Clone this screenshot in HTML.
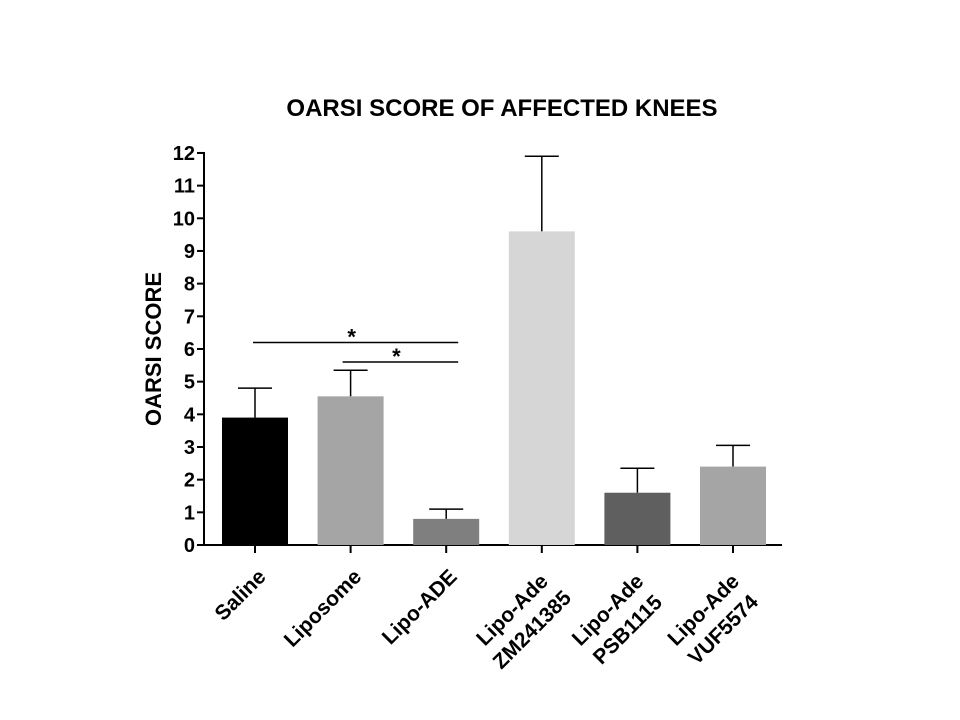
<!DOCTYPE html>
<html><head><meta charset="utf-8"><style>
body{margin:0;background:#fff;}
svg{display:block;font-family:"Liberation Sans",Arial,sans-serif;}
</style></head><body>
<svg id="chart" width="960" height="720">
<text x="502" y="116" text-anchor="middle" font-size="24" font-weight="bold">OARSI SCORE OF AFFECTED KNEES</text>
<text transform="translate(161,349) rotate(-90)" text-anchor="middle" font-size="22" font-weight="bold">OARSI SCORE</text>
<g id="marks"></g>
</svg>
<script>
const categories=[["Saline"],["Liposome"],["Lipo-ADE"],["Lipo-Ade","ZM241385"],["Lipo-Ade","PSB1115"],["Lipo-Ade","VUF5574"]];
const means=[3.9,4.55,0.8,9.6,1.6,2.4];
const errors=[0.9,0.8,0.3,2.3,0.75,0.65];
const colors=["#000000","#a5a5a5","#7f7f7f","#d6d6d6","#5f5f5f","#a5a5a5"];
const yTicks=[0,1,2,3,4,5,6,7,8,9,10,11,12];
const sigPairs=[[0,2,6.2],[1,2,5.6]];
const NS="http://www.w3.org/2000/svg";
const g=document.getElementById('marks');
const y=v=>545-v*32.67;
const x=i=>255+i*95.6;
const bw=66;
function mk(t,a,p){const e=document.createElementNS(NS,t);for(const k in a)e.setAttribute(k,a[k]);(p||g).appendChild(e);return e;}
let e;
e=mk('line',{x1:204,y1:y(12)-1,x2:204,y2:546,stroke:'#000','stroke-width':2});


e=mk('line',{x1:203,y1:545,x2:782,y2:545,stroke:'#000','stroke-width':2});


yTicks.forEach(t=>{
 e=mk('line',{x1:197,y1:y(t),x2:204,y2:y(t),stroke:'#000','stroke-width':2});
 
 
 e=mk('text',{x:195,y:y(t)+7,'text-anchor':'end','font-size':20,'font-weight':'bold'});
 e.textContent=t;
 
 
});
means.forEach((m,i)=>{
 const cx=x(i);
 e=mk('line',{x1:cx,y1:y(m),x2:cx,y2:y(m+errors[i]),stroke:'#000','stroke-width':1.5});
 
 
 e=mk('line',{x1:cx-17,y1:y(m+errors[i]),x2:cx+17,y2:y(m+errors[i]),stroke:'#000','stroke-width':1.5});
 
 
 e=mk('rect',{x:cx-bw/2,y:y(m),width:bw,height:y(0)-y(m),fill:colors[i]});
 
 
 e=mk('line',{x1:cx,y1:545,x2:cx,y2:553,stroke:'#000','stroke-width':2});
 
 
 const lines=categories[i];
 const grp=mk('g',{transform:`translate(${cx+12},${578}) rotate(-45)`});
 
 
 lines.forEach((s,j)=>{
  const multi=lines.length>1;
  e=mk('text',{x:multi?-52:0,y:j*28,'text-anchor':multi?'middle':'end','font-size':21,'font-weight':'bold'},grp);
  e.textContent=s;
  
  
 });
});
sigPairs.forEach(p=>{
 const x1=x(p[0])-2+(p[0]===1?-6:0), x2=x(p[1])+12;
 e=mk('line',{x1:x1,y1:y(p[2]),x2:x2,y2:y(p[2]),stroke:'#000','stroke-width':1.5});
 
 
 e=mk('text',{x:(x1+x2)/2-4,y:y(p[2])+2,'text-anchor':'middle','font-size':22,'font-weight':'bold'});
 e.textContent='*';
 
 
});
</script>
</body></html>
